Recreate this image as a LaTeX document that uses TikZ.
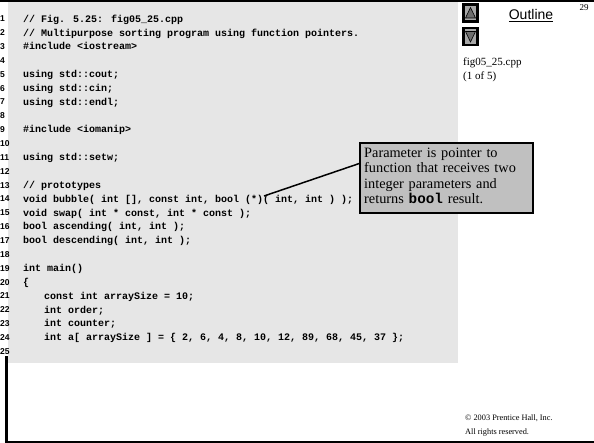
\documentclass[tikz,border=0pt]{standalone}
\usepackage{fontspec}
\setmainfont{Liberation Serif}
\newfontfamily\codefont{Liberation Mono}
\newfontfamily\arialfont{Liberation Sans}
\usetikzlibrary{calc}
\definecolor{codebg}{HTML}{E6E6E6}
\definecolor{notebg}{HTML}{C0C0C0}
\definecolor{btnbg}{HTML}{A8A8A8}
\definecolor{tribg}{HTML}{6E6E6E}
\tikzset{
  codeline/.style={anchor=base west, inner sep=0pt, font=\codefont\bfseries\fontsize{10}{12}\selectfont},
  lnum/.style={anchor=base west, inner sep=0pt, font=\arialfont\bfseries\fontsize{8.5}{10}\selectfont},
  notebox/.style={draw=black, line width=2pt, fill=notebg, anchor=north west, minimum width=173pt, minimum height=70pt, inner sep=0pt},
  notetext/.style={anchor=north west, inner sep=0pt, text width=165pt, align=left, font=\fontsize{14.3}{15.6}\selectfont},
  btnbox/.style={draw=black, line width=2.5pt, fill=btnbg, minimum width=14pt, minimum height=17pt, inner sep=0pt},
  tri/.style={fill=tribg, draw=black, line width=0.6pt},
  plain/.style={inner sep=0pt}
}
\newcommand\cln[3][23]{%
  \node[lnum] (n#2) at (0,{18.9+(#2-1)*13.85+3}) {#2};
  \node[codeline] (c#2) at (#1,{18.9+(#2-1)*13.85+3.3}) {#3};}
\begin{document}
\begin{tikzpicture}[x=1pt,y=-1pt]
\useasboundingbox (0,0) rectangle (594,443);
% code panel
\fill[codebg] (8,2) rectangle (458,363);
\fill[black] (0,0) rectangle (594,2);
\fill[black] (5,356) rectangle (8,443);
\fill[black] (5,440.5) rectangle (594,442.5);
% code
\cln{1}{// Fig. 5.25: fig05\_25.cpp}
\cln{2}{// Multipurpose sorting program using function pointers.}
\cln{3}{\#include <iostream>}
\cln{4}{}
\cln{5}{using std::cout;}
\cln{6}{using std::cin;}
\cln{7}{using std::endl;}
\cln{8}{}
\cln{9}{\#include <iomanip>}
\cln{10}{}
\cln{11}{using std::setw;}
\cln{12}{}
\cln{13}{// prototypes}
\cln{14}{void bubble( int [], const int, bool (*)( int, int ) );}
\cln{15}{void swap( int * const, int * const );}
\cln{16}{bool ascending( int, int );}
\cln{17}{bool descending( int, int );}
\cln{18}{}
\cln{19}{int main()}
\cln{20}{\{}
\cln[44]{21}{const int arraySize = 10;}
\cln[44]{22}{int order;}
\cln[44]{23}{int counter;}
\cln[44]{24}{int a[ arraySize ] = \{ 2, 6, 4, 8, 10, 12, 89, 68, 45, 37 \};}
\cln{25}{}
% callout
\node[notebox] (note) at (359,142) {};
\node[notetext] (notetxt) at ($(note.north west)+(5,5.5)$) {Parameter is pointer to\\function that receives two\\integer parameters and\\returns {\codefont\bfseries bool} result.};
\coordinate (star) at (264,196);
\draw[line width=1.5pt] (star) -- ($(note.north west)!0.3!(note.south west)$);
% navigation buttons
\node[btnbox] (up) at (470.5,13) {};
\node[btnbox] (down) at (470.5,36.5) {};
\filldraw[tri] ($(up.center)+(0,-5.5)$) -- ($(up.center)+(5,5)$) -- ($(up.center)+(-5,5)$) -- cycle;
\filldraw[tri] ($(down.center)+(0,5.5)$) -- ($(down.center)+(5,-5)$) -- ($(down.center)+(-5,-5)$) -- cycle;
% right side texts
\node[plain, font=\arialfont\fontsize{14}{16}\selectfont] (outline) at (531,16) {\underline{Outline}};
\node[plain, font=\fontsize{9}{10}\selectfont] (page) at (584,8) {29};
\node[plain, anchor=west, font=\fontsize{11}{13}\selectfont] (file) at (463,63) {fig05\_25.cpp};
\node[plain, anchor=west, font=\fontsize{11}{13}\selectfont] (part) at (463,77) {(1 of 5)};
\node[plain, anchor=west, font=\fontsize{8.3}{10}\selectfont] (copy) at (465,418) {© 2003 Prentice Hall, Inc.};
\node[plain, anchor=west, font=\fontsize{8.3}{10}\selectfont] (rights) at (465,433) {All rights reserved.};
\end{tikzpicture}
\end{document}
